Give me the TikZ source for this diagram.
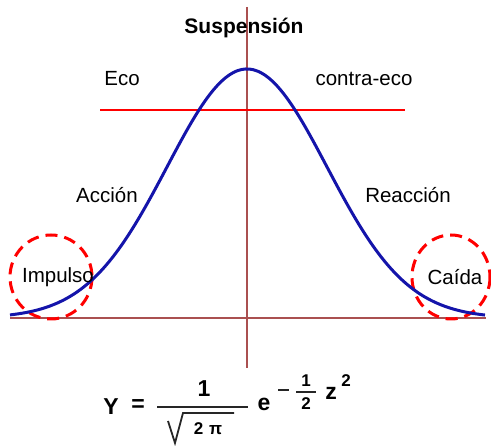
\documentclass[tikz,border=0pt]{standalone}
\usepackage{fontspec}
\setmainfont{Liberation Sans}
\begin{document}
\begin{tikzpicture}[x=1pt,y=-1pt,
  lbl/.style={inner sep=0pt,font=\fontsize{20.5}{24}\selectfont},
  ttl/.style={inner sep=0pt,font=\fontsize{21}{24}\selectfont\bfseries},
  fbig/.style={inner sep=0pt,font=\fontsize{23}{26}\selectfont\bfseries},
  fsmall/.style={inner sep=0pt,font=\fontsize{17}{19}\selectfont\bfseries},
  axisline/.style={draw={rgb,255:red,170;green,80;blue,80},line width=1.1pt},
  redline/.style={draw=red,line width=1.4pt},
  zone/.style={draw=red,line width=3pt,dash pattern=on 12pt off 7pt},
  bell/.style={draw={rgb,255:red,20;green,20;blue,170},line width=3pt},
  bar/.style={line width=2.4pt,draw=black!85}]
\useasboundingbox (0,0) rectangle (491,446);
% axes
\coordinate (vt) at (247,7);
\coordinate (vb) at (247,368);
\coordinate (hl) at (10,318);
\coordinate (hr) at (486,318);
\coordinate (el) at (100,110);
\coordinate (er) at (405,110);
\draw[axisline] (vt) -- (vb);
\draw[axisline] (hl) -- (hr);
\draw[redline] (el) -- (er);
% dashed circles
\draw[zone] (51,277) ellipse [x radius=41, y radius=42];
\draw[zone] (451,277) ellipse [x radius=39, y radius=42];
% bell curve
\draw[bell] plot[smooth,samples=120,domain=10:485] (\x,{318-249*exp(-((\x-247)/80)^2/2)});
% labels
\node[ttl] (susp) at (244,28) {Suspensión};
\node[lbl] (eco) at (122,79) {Eco};
\node[lbl] (ceco) at (364,79) {contra-eco};
\node[lbl] (acc) at (107,195) {Acción};
\node[lbl] (reac) at (408,195) {Reacción};
\node[lbl] (imp) at (58,277) {Impulso};
\node[lbl] (cai) at (455,277) {Caída};
% formula
\node[fbig] (fy) at (111,407) {Y};
\node[fbig] (feq) at (138,406) {=};
\coordinate (fb1) at (157,407);
\coordinate (fb2) at (248,407);
\draw[bar] (fb1) -- (fb2);
\node[fbig] (fnum) at (204,389) {1};
\coordinate (r1) at (168,421);
\coordinate (r2) at (175,443);
\coordinate (r3) at (183,413);
\coordinate (r4) at (234,413);
\draw[line width=1.8pt,draw=black!85] (r1) -- (r2) -- (r3) -- (r4);
\node[fsmall] (fden) at (208,429) {2\,\,π};
\node[fbig] (fe) at (264,404) {e};
\coordinate (m1) at (278,390);
\coordinate (m2) at (289,390);
\draw[line width=2.2pt,draw=black!85] (m1) -- (m2);
\node[fsmall] (fone) at (306,381) {1};
\coordinate (s1) at (296,392);
\coordinate (s2) at (316,392);
\draw[line width=2pt,draw=black!85] (s1) -- (s2);
\node[fsmall] (ftwo) at (306,404) {2};
\node[fbig] (fz) at (331,393) {z};
\node[fsmall] (fsq) at (346,381) {2};
\end{tikzpicture}
\end{document}
